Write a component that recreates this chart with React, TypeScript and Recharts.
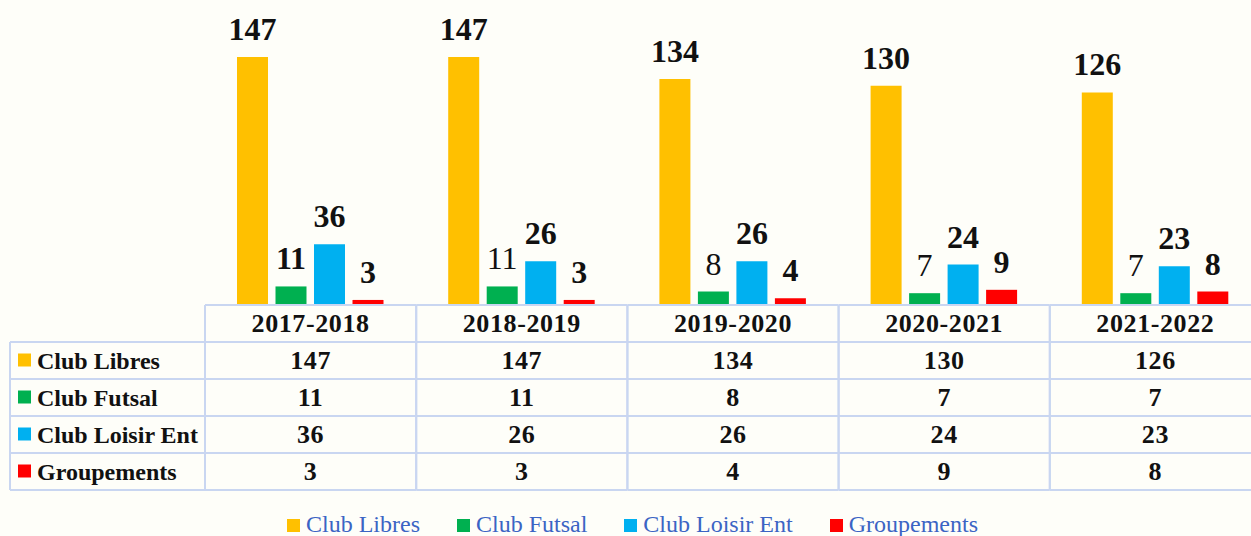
import React from "react";
import { BarChart, Bar, XAxis, YAxis, LabelList } from "recharts";

// saisons et effectifs par type de club
const categories = ["2017-2018", "2018-2019", "2019-2020", "2020-2021", "2021-2022"];
const clubLibres = [147, 147, 134, 130, 126];
const clubFutsal = [11, 11, 8, 7, 7];
const clubLoisirEnt = [36, 26, 26, 24, 23];
const groupements = [3, 3, 4, 9, 8];

const seriesKeys = ["libres", "futsal", "loisir", "groupements"];
const seriesNames = ["Club Libres", "Club Futsal", "Club Loisir Ent", "Groupements"];
const seriesValues = [clubLibres, clubFutsal, clubLoisirEnt, groupements];
const seriesColors = ["#FFC000", "#00B050", "#00B0F0", "#FF0000"];
// étiquettes en gras ou non (les petites valeurs futsal sont en maigre)
const labelBold = [
  [true, true, true, true, true],
  [true, false, false, false, false],
  [true, true, true, true, true],
  [true, true, true, true, true],
];

const FONT = '"Liberation Serif", "Times New Roman", serif';
const W = 1261;
const H = 536;
const PLOT_LEFT = 205;
const PLOT_TOP = 35;
const AXIS_H = 231;
const COL_W = (W - PLOT_LEFT) / categories.length;
const ROW_H = 37;
const GRID = "#C9D6F1";
const BG = "#FEFEF9";

const data = categories.map((cat, i) => {
  const row: Record<string, string | number> = { cat };
  seriesKeys.forEach((k, s) => (row[k] = seriesValues[s][i]));
  return row;
});

const cellText = {
  textAnchor: "middle" as const,
  fontFamily: FONT,
  fontWeight: "bold",
  fontSize: 26,
  letterSpacing: 0.6,
  fill: "#111",
};

function TableColumn(props: any) {
  const { x, y, payload } = props;
  const i = categories.indexOf(payload.value);
  const left = x - COL_W / 2;
  const right = x + COL_W / 2;
  const nRows = seriesNames.length + 1;
  const bottom = y + nRows * ROW_H;
  return (
    <g>
      {Array.from({ length: nRows + 1 }, (_, r) => (
        <line key={"h" + r} x1={left} x2={right} y1={y + r * ROW_H} y2={y + r * ROW_H} stroke={GRID} strokeWidth={2} />
      ))}
      <line x1={left} x2={left} y1={y} y2={bottom} stroke={GRID} strokeWidth={2} />
      <line x1={right} x2={right} y1={y} y2={bottom} stroke={GRID} strokeWidth={2} />
      <text x={x} y={y + ROW_H / 2 + 8.5} {...cellText}>
        {payload.value}
      </text>
      {seriesValues.map((vals, s) => (
        <text key={"v" + s} x={x} y={y + (s + 1) * ROW_H + ROW_H / 2 + 8.5} {...cellText}>
          {vals[i]}
        </text>
      ))}
      {i === 0 && (
        <g>
          {Array.from({ length: nRows }, (_, r) => (
            <line key={"lh" + r} x1={10} x2={left} y1={y + (r + 1) * ROW_H} y2={y + (r + 1) * ROW_H} stroke={GRID} strokeWidth={2} />
          ))}
          <line x1={10} x2={10} y1={y + ROW_H} y2={bottom} stroke={GRID} strokeWidth={2} />
          {seriesNames.map((name, s) => {
            const cy = y + (s + 1) * ROW_H + ROW_H / 2;
            return (
              <g key={"ln" + s}>
                <rect x={18} y={cy - 7} width={13} height={13} fill={seriesColors[s]} />
                <text x={37} y={cy + 8} fontFamily={FONT} fontWeight="bold" fontSize={24} fill="#111">
                  {name}
                </text>
              </g>
            );
          })}
        </g>
      )}
    </g>
  );
}

function makeLabel(s: number) {
  return (props: any) => {
    const { x, y, width, value, index } = props;
    return (
      <text
        x={x + width / 2}
        y={y - 17}
        textAnchor="middle"
        fontFamily={FONT}
        fontWeight={labelBold[s][index] ? "bold" : "normal"}
        fontSize={32}
        fill="#111"
      >
        {value}
      </text>
    );
  };
}

export default function App() {
  return (
    <div style={{ position: "absolute", left: 0, top: 0, width: 1251, height: 536, overflow: "hidden", background: BG }}>
      <BarChart
        width={W}
        height={H}
        data={data}
        margin={{ top: PLOT_TOP, right: 0, bottom: 0, left: PLOT_LEFT }}
        barSize={31}
        barGap={7.5}
      >
        <YAxis hide domain={[0, 160]} />
        <XAxis
          dataKey="cat"
          height={AXIS_H}
          interval={0}
          axisLine={false}
          tickLine={false}
          tickSize={0}
          tickMargin={0}
          tick={(p: any) => <TableColumn {...p} />}
        />
        {seriesKeys.map((k, s) => (
          <Bar key={k} dataKey={k} name={seriesNames[s]} fill={seriesColors[s]} isAnimationActive={false}>
            <LabelList dataKey={k} content={makeLabel(s)} />
          </Bar>
        ))}
      </BarChart>
      <div
        style={{
          position: "absolute",
          left: 287,
          top: 512,
          display: "flex",
          alignItems: "center",
          fontFamily: FONT,
          fontSize: 24,
          lineHeight: "24px",
          color: "#3B64C4",
          whiteSpace: "nowrap",
        }}
      >
        {seriesNames.map((name, s) => (
          <span key={name} style={{ display: "flex", alignItems: "center", marginRight: 37 }}>
            <span style={{ width: 13, height: 13, background: seriesColors[s], marginRight: 6, marginTop: 2 }} />
            {name}
          </span>
        ))}
      </div>
    </div>
  );
}
